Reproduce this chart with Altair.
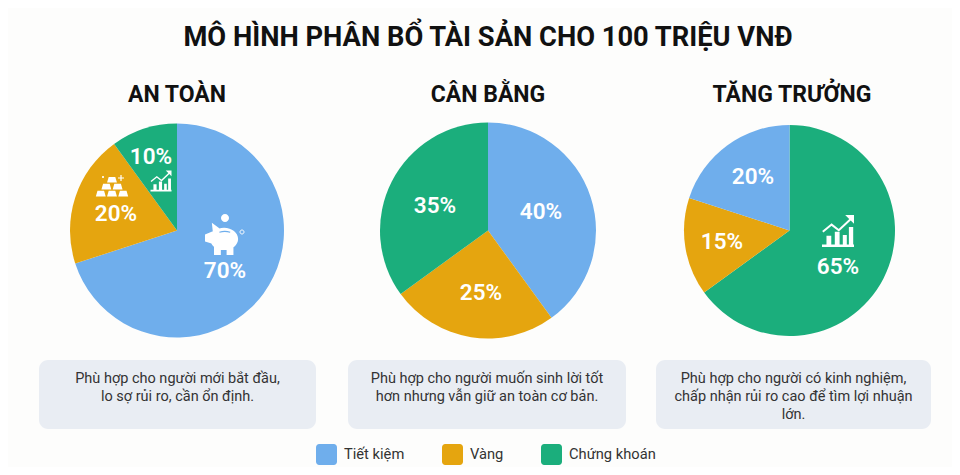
import altair as alt
import pandas as pd

TITLE = "MÔ HÌNH PHÂN BỔ TÀI SẢN CHO 100 TRIỆU VNĐ"
SERIES = ["Tiết kiệm", "Vàng", "Chứng khoán"]
COLORS = ["#6FAEEC", "#E5A50F", "#1BAE7C"]
PANELS = ["AN TOÀN", "CÂN BẰNG", "TĂNG TRƯỞNG"]
SLICE_NAMES = [
    ["Tiết kiệm", "Vàng", "Chứng khoán"],
    ["Tiết kiệm", "Vàng", "Chứng khoán"],
    ["Chứng khoán", "Vàng", "Tiết kiệm"],
]
SLICE_VALUES = [[70, 20, 10], [40, 25, 35], [65, 15, 20]]
NOTES = [
    ["Phù hợp cho người mới bắt đầu,", "lo sợ rủi ro, cần ổn định."],
    ["Phù hợp cho người muốn sinh lời tốt", "hơn nhưng vẫn giữ an toàn cơ bản."],
    ["Phù hợp cho người có kinh nghiệm,", "chấp nhận rủi ro cao để tìm lợi nhuận", "lớn."],
]

# Layout, in page pixels
XS = alt.Scale(domain=[8, 952], range=[0, 944])
YS = alt.Scale(domain=[8, 467], range=[0, 459])
FONT = "Roboto"
CENTERS = [(177, 230.5), (488, 230.5), (789.5, 230.5)]
RADII = [107, 108, 105.5]
HEAD_X = [177, 488, 792]
LABEL_POS = [
    [(225, 271), (116, 213.5), (151, 157)],
    [(541, 212), (481, 293), (435, 206)],
    [(838, 267), (722, 242), (753, 177)],
]
CARDS = [(39, 316), (348, 626), (656, 931)]
CARD_TOP, CARD_BOTTOM = 360, 429
NOTE_Y0, NOTE_DY = 378.5, 18

CHART_BARS = ("M-1,0.84H1V1H-1Z M-0.72,0.3H-0.42V0.84H-0.72Z M-0.2,0.05H0.1V0.84H-0.2Z "
              "M0.3,0.25H0.55V0.84H0.3Z M0.68,-0.25H0.95V0.84H0.68Z")
CHART_LINE = "M-0.95,0.05L-0.4,-0.4L0.05,-0.05L0.85,-0.8"
CHART_HEAD = "M0.45,-1H1V-0.45Z"
PIG = ("M-0.72,0.05A0.78,0.62 0 1 1 0.84,0.05A0.78,0.62 0 1 1 -0.72,0.05Z "
       "M-1,-0.2L-0.5,-0.4L-0.5,0.35L-1,0.2Z "
       "M-0.62,-0.85L-0.15,-0.5L-0.55,-0.2Z "
       "M-0.5,0.4H-0.12V0.95H-0.5Z M0.2,0.4H0.58V0.95H0.2Z")
SLOT = "M-0.2,-0.32Q0.1,-0.42 0.4,-0.32"
COIN = "M-1,0A1,1 0 1 1 1,0A1,1 0 1 1 -1,0Z"


def trap(cx, top):
    l, r, t, b = cx - 0.3, cx + 0.3, top, top + 0.34
    return f"M{l + 0.1},{t}H{r - 0.1}L{r},{b}H{l}Z"


GOLD = " ".join([trap(0, -0.55), trap(-0.34, -0.13), trap(0.34, -0.13),
                 trap(-0.68, 0.29), trap(0, 0.29), trap(0.68, 0.29)])
PLUS = "M-1,-0.2H-0.2V-1H0.2V-0.2H1V0.2H0.2V1H-0.2V0.2H-1Z"
SWATCH = ("M-0.7,-1H0.7A0.3,0.3 0 0 1 1,-0.7V0.7A0.3,0.3 0 0 1 0.7,1H-0.7"
          "A0.3,0.3 0 0 1 -1,0.7V-0.7A0.3,0.3 0 0 1 -0.7,-1Z")

ONE = pd.DataFrame({"a": [0]})


def text(s, x, y, size, color="#111111", weight="normal"):
    return alt.Chart(ONE).mark_text(
        text=s, font=FONT, fontSize=size, fontWeight=weight, color=color,
        align="center", baseline="middle",
    ).encode(x=alt.X(datum=x, scale=XS, axis=None), y=alt.Y(datum=y, scale=YS, axis=None))


def glyph(path, x, y, scale, filled=True, color="white", sw=1.6, opacity=1):
    # a custom symbol path spans [-1, 1] x sqrt(size)/2 pixels
    kw = {"filled": True, "strokeWidth": 0} if filled else {"filled": False, "strokeWidth": sw, "stroke": color}
    return alt.Chart(ONE).mark_point(
        shape=path, size=(2 * scale) ** 2, color=color, opacity=opacity, **kw
    ).encode(x=alt.X(datum=x, scale=XS, axis=None), y=alt.Y(datum=y, scale=YS, axis=None))


layers = []

# cards
for x0, x1 in CARDS:
    layers.append(
        alt.Chart(ONE).mark_rect(color="#E9EDF3", cornerRadius=9).encode(
            x=alt.X(datum=x0, scale=XS, axis=None), x2=alt.X2(datum=x1),
            y=alt.Y(datum=CARD_TOP, scale=YS, axis=None), y2=alt.Y2(datum=CARD_BOTTOM),
        )
    )

# pies
for i, (cx, cy) in enumerate(CENTERS):
    df = pd.DataFrame({"name": SLICE_NAMES[i], "value": SLICE_VALUES[i], "idx": [0, 1, 2]})
    layers.append(
        alt.Chart(df).mark_arc(outerRadius=RADII[i]).encode(
            x=alt.X(datum=cx, scale=XS, axis=None),
            y=alt.Y(datum=cy, scale=YS, axis=None),
            theta=alt.Theta("value:Q", stack=True, scale=alt.Scale(domain=[0, 100])),
            order=alt.Order("idx:Q"),
            color=alt.Color(
                "name:N",
                scale=alt.Scale(domain=SERIES, range=COLORS),
                legend=alt.Legend(
                    title=None, orient="none", legendX=308, legendY=436, direction="horizontal",
                    columns=3, gridAlign="none", symbolType=SWATCH, symbolSize=441,
                    symbolStrokeWidth=0, symbolOffset=0, labelFont=FONT, labelFontSize=14.7,
                    labelColor="#333333", labelOffset=7, columnPadding=37, padding=0, labelLimit=200,
                ),
            ),
        )
    )

# text
layers.append(text(TITLE, 488, 38, 27.3, weight="bold"))
for i, name in enumerate(PANELS):
    layers.append(text(name, HEAD_X[i], 95, 23, weight="bold"))
    for v, (x, y) in zip(SLICE_VALUES[i], LABEL_POS[i]):
        layers.append(text(f"{v}%", x, y, 22.5, color="white", weight=600))
    mid = (CARDS[i][0] + CARDS[i][1]) / 2
    for j, line in enumerate(NOTES[i]):
        layers.append(text(line, mid, NOTE_Y0 + j * NOTE_DY, 14.5, color="#333333"))

# icons: piggy bank
layers += [
    glyph(PIG, 223, 238, 18),
    glyph(SLOT, 223, 238, 18, filled=False, color="#6FAEEC", sw=1.2),
    glyph(COIN, 225, 218, 4),
    glyph(COIN, 242, 232, 2, filled=False, sw=1),
]
# icons: gold bars
layers += [
    glyph(GOLD, 112, 186, 16.5),
    glyph(PLUS, 121, 178, 3),
    glyph(COIN, 103, 177, 1),
]
# icons: growth chart
for x, y, s in [(161, 181, 10.5), (838, 231, 16)]:
    layers += [
        glyph(CHART_BARS, x, y, s),
        glyph(CHART_LINE, x, y, s, filled=False, sw=1.4 if s < 12 else 2),
        glyph(CHART_HEAD, x, y, s),
    ]

chart = (
    alt.layer(*layers)
    .properties(width=944, height=459, padding=0, background="#FDFDFC",
                autosize=alt.AutoSizeParams(type="none"))
    .configure_view(stroke=None)
)
chart.save("out.html", embed_options={"renderer": "svg", "actions": False})
